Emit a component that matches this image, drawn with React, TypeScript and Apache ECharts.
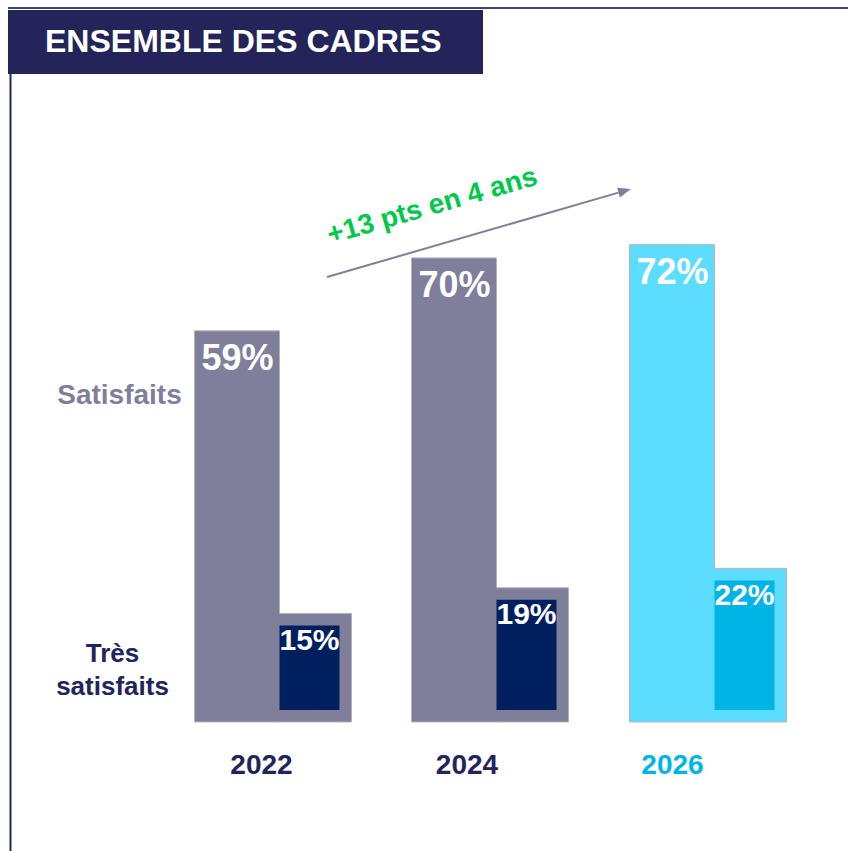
import React, { useEffect, useRef } from 'react';
import * as echarts from 'echarts';

const years = ['2022', '2024', '2026'];
const satisfaits = [59, 70, 72];
const tresSatisfaits = [15, 19, 22];
const trendLabel = '+13 pts en 4 ans';
const titleText = 'ENSEMBLE DES CADRES';
const rowLabelTop = 'Satisfaits';
const rowLabelBottom = ['Très', 'satisfaits'];

const FONT = '"Liberation Sans", Arial, sans-serif';
const OUTER = ['#7F7F9B', '#7F7F9B', '#5CDCFE'];
const INNER = ['#001F5F', '#001F5F', '#00B5E6'];
const OUTLINE = '#B4B4B8';
const NAVY = '#23245A';
const YEAR_COLORS = [NAVY, NAVY, '#00B5E6'];

// px styles of the L-shaped marks
const COL_W = 85;
const IN_W = 60;
const PAD = 12;

export default function App() {
  const ref = useRef<HTMLDivElement>(null);

  useEffect(() => {
    const chart = echarts.init(ref.current!, null, { renderer: 'svg' });
    const satData = years.map((_, i) => [i, satisfaits[i]]);
    const tresData = years.map((_, i) => [i, tresSatisfaits[i]]);

    const groupLeft = (cx: number) => Math.round(cx - (COL_W + IN_W + PAD) / 2) + 0.5;

    // arrow geometry (decoration)
    const ax0 = 327, ay0 = 277, ax1 = 631, ay1 = 189;
    const len = Math.hypot(ax1 - ax0, ay1 - ay0);
    const ux = (ax1 - ax0) / len, uy = (ay1 - ay0) / len;
    const hl = 13, hw = 5;
    const bx = ax1 - ux * hl, by = ay1 - uy * hl;
    const nx = -uy, ny = ux;

    chart.setOption({
      animation: false,
      backgroundColor: '#ffffff',
      grid: [
        { left: 163.25, right: 32.25, top: 59, bottom: 129 },
        { left: 158.75, right: 72.75, top: 59, bottom: 129 },
      ],
      xAxis: [
        { type: 'category', data: years, gridIndex: 0, show: false },
        {
          type: 'category',
          data: years,
          gridIndex: 1,
          axisLine: { show: false },
          axisTick: { show: false },
          splitLine: { show: false },
          axisLabel: {
            margin: 28,
            fontSize: 28,
            fontWeight: 'bold',
            fontFamily: FONT,
            color: (_v: any, idx: number) => YEAR_COLORS[idx],
          },
        },
      ],
      yAxis: [
        { type: 'value', min: 0, max: 100, gridIndex: 0, show: false },
        { type: 'value', min: 0, max: 100, gridIndex: 1, show: false },
        { type: 'value', min: 0, max: 103, gridIndex: 0, show: false },
      ],
      series: [
        {
          name: 'Satisfaits',
          type: 'custom',
          xAxisIndex: 0,
          yAxisIndex: 0,
          clip: false,
          silent: true,
          data: satData,
          encode: { x: 0, y: 1 },
          renderItem: (_params: any, api: any) => {
            const i = api.value(0);
            const sat = api.value(1);
            const p0 = api.coord([i, 0]);
            const base = p0[1];
            const yS = api.coord([i, sat])[1];
            const x0 = groupLeft(p0[0]);
            return {
              type: 'group',
              children: [
                {
                  type: 'rect',
                  shape: { x: x0, y: yS, width: COL_W, height: base - yS },
                  style: { fill: OUTER[i], stroke: OUTLINE, lineWidth: 1 },
                },
                {
                  type: 'text',
                  x: x0 + 7,
                  y: yS + 27,
                  style: {
                    text: sat + '%',
                    fill: '#ffffff',
                    fontSize: 36,
                    fontWeight: 'bold',
                    fontFamily: FONT,
                    align: 'left',
                    verticalAlign: 'middle',
                  },
                },
              ],
            };
          },
        },
        {
          name: 'Très satisfaits',
          type: 'custom',
          xAxisIndex: 0,
          yAxisIndex: 2,
          clip: false,
          silent: true,
          z: 3,
          data: tresData,
          encode: { x: 0, y: 1 },
          renderItem: (_params: any, api: any) => {
            const i = api.value(0);
            const tres = api.value(1);
            const p0 = api.coord([i, 0]);
            const base = p0[1];
            const yT = api.coord([i, tres])[1];
            const x0 = groupLeft(p0[0]);
            const x1 = x0 + COL_W;
            const x2 = x1 + IN_W;
            const x3 = x2 + PAD;
            const frameTop = yT - PAD;
            return {
              type: 'group',
              children: [
                {
                  type: 'rect',
                  shape: { x: x1 - 0.6, y: frameTop, width: x3 - x1 + 0.6, height: base - frameTop },
                  style: { fill: OUTER[i] },
                },
                {
                  type: 'polyline',
                  shape: {
                    points: [
                      [x1, frameTop],
                      [x3, frameTop],
                      [x3, base],
                      [x1, base],
                    ],
                  },
                  style: { stroke: OUTLINE, lineWidth: 1, fill: 'none' },
                },
                {
                  type: 'rect',
                  shape: { x: x1, y: yT, width: IN_W, height: base - PAD - yT },
                  style: { fill: INNER[i] },
                },
                {
                  type: 'text',
                  x: x1 + IN_W / 2,
                  y: yT + 14,
                  style: {
                    text: tres + '%',
                    fill: '#ffffff',
                    fontSize: 30,
                    fontWeight: 'bold',
                    fontFamily: FONT,
                    align: 'center',
                    verticalAlign: 'middle',
                  },
                },
              ],
            };
          },
        },
      ],
      graphic: [
        { type: 'line', shape: { x1: 8, y1: 8, x2: 848, y2: 8 }, style: { stroke: '#3E3F72', lineWidth: 2 } },
        { type: 'line', shape: { x1: 10.5, y1: 70, x2: 10.5, y2: 851 }, style: { stroke: NAVY, lineWidth: 2 } },
        { type: 'rect', shape: { x: 8, y: 10, width: 475, height: 64 }, style: { fill: NAVY } },
        {
          type: 'text',
          x: 45,
          y: 41,
          style: {
            text: titleText,
            fill: '#ffffff',
            fontSize: 32,
            fontWeight: 'bold',
            fontFamily: FONT,
            align: 'left',
            verticalAlign: 'middle',
          },
        },
        {
          type: 'text',
          x: 119.5,
          y: 394,
          style: {
            text: rowLabelTop,
            fill: '#7F7F9B',
            fontSize: 28,
            fontWeight: 'bold',
            fontFamily: FONT,
            align: 'center',
            verticalAlign: 'middle',
          },
        },
        {
          type: 'text',
          x: 112.5,
          y: 653,
          style: {
            text: rowLabelBottom[0],
            fill: NAVY,
            fontSize: 26,
            fontWeight: 'bold',
            fontFamily: FONT,
            align: 'center',
            verticalAlign: 'middle',
          },
        },
        {
          type: 'text',
          x: 112.5,
          y: 686,
          style: {
            text: rowLabelBottom[1],
            fill: NAVY,
            fontSize: 26,
            fontWeight: 'bold',
            fontFamily: FONT,
            align: 'center',
            verticalAlign: 'middle',
          },
        },
        {
          type: 'line',
          shape: { x1: ax0, y1: ay0, x2: bx, y2: by },
          style: { stroke: '#7F7F9B', lineWidth: 2 },
        },
        {
          type: 'polygon',
          shape: {
            points: [
              [ax1, ay1],
              [bx + nx * hw, by + ny * hw],
              [bx - nx * hw, by - ny * hw],
            ],
          },
          style: { fill: '#7F7F9B' },
        },
        {
          type: 'text',
          x: 432,
          y: 205,
          rotation: (16 * Math.PI) / 180,
          style: {
            text: trendLabel,
            fill: '#00C84A',
            fontSize: 28,
            fontWeight: 'bold',
            fontFamily: FONT,
            align: 'center',
            verticalAlign: 'middle',
          },
        },
      ],
    });

    return () => chart.dispose();
  }, []);

  return (
    <div
      ref={ref}
      style={{ position: 'fixed', left: 0, top: 0, width: 848, height: 851 }}
    />
  );
}
